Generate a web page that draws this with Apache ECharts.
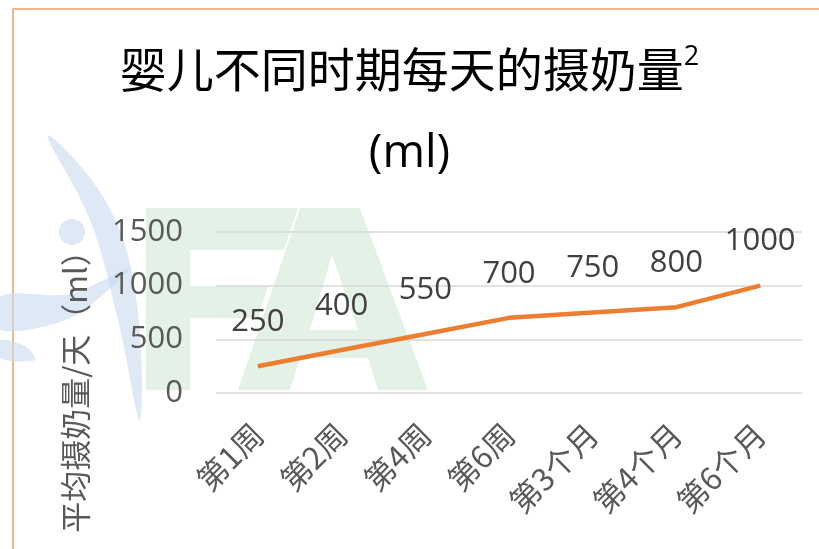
<!DOCTYPE html>
<html>
<head>
<meta charset="utf-8">
<script src="https://cdn.jsdelivr.net/npm/echarts@6/dist/echarts.min.js"></script>
<style>html,body{margin:0;padding:0;background:#fff;}#c{width:819px;height:549px;}</style>
</head>
<body>
<div id="c"></div>
<script>
const categories = ['第1周', '第2周', '第4周', '第6周', '第3个月', '第4个月', '第6个月'];
const intake = [250, 400, 550, 700, 750, 800, 1000];
const yTicks = { min: 0, max: 1500, interval: 500 };
const titleMain = '婴儿不同时期每天的摄奶量';
const titleSup = '2';
const titleUnit = '(ml)';
const yName = '平均摄奶量/天（ml）';

const chart = echarts.init(document.getElementById('c'), null, { renderer: 'canvas' });
const numFont = '"Open Sans", "Noto Sans CJK SC", sans-serif';
const cjkFont = '"Noto Sans CJK SC", sans-serif';
const blue = 'rgba(200,218,238,0.6)';
const green = 'rgba(205,230,210,0.55)';

chart.setOption({
  backgroundColor: '#ffffff',
  animation: false,
  graphic: [
    { type: 'rect', z: -10, shape: { x: 13, y: 9, width: 900, height: 700 },
      style: { fill: 'none', stroke: '#F0A06A', lineWidth: 1.5 } },
    // watermark: blue swoosh
    { type: 'polygon', z: -9, shape: { smooth: 0.4, points: [[48,136],[105,200],[135,290],[140,420],[118,320],[90,220]] },
      style: { fill: blue } },
    { type: 'circle', z: -9, shape: { cx: 72, cy: 232, r: 13 }, style: { fill: blue } },
    { type: 'polygon', z: -9, shape: { smooth: 0.3, points: [[0,296],[70,294],[130,268],[70,318],[0,330]] },
      style: { fill: blue } },
    { type: 'polygon', z: -9, shape: { smooth: 0.3, points: [[0,340],[25,346],[35,360],[0,358]] },
      style: { fill: blue } },
    // watermark: green FA
    { type: 'polygon', z: -9, shape: { points: [[146,208],[298,208],[284,250],[190,250],[190,286],[268,286],[258,318],[190,318],[190,390],[146,390]] },
      style: { fill: green } },
    { type: 'polygon', z: -9, shape: { points: [[300,208],[360,208],[428,390],[378,390],[368,358],[300,358],[290,390],[238,390]] },
      style: { fill: green } },
    { type: 'polygon', z: -8, shape: { points: [[332,255],[358,330],[310,330]] },
      style: { fill: '#ffffff' } },
    // title
    { type: 'text', left: 'center', top: 44,
      style: { text: '{m|' + titleMain + '}{s|' + titleSup + '}',
        rich: { m: { fontSize: 47, fontFamily: cjkFont, fill: '#000' },
                s: { fontSize: 27, fontFamily: numFont, fill: '#000', verticalAlign: 'top', padding: [0,0,24,0] } } } },
    { type: 'text', left: 'center', top: 131,
      style: { text: titleUnit, fontSize: 46, fontFamily: numFont, fill: '#000' } },
    // y axis name
    { type: 'text', x: 75, y: 384, rotation: Math.PI / 2,
      style: { text: yName, fontSize: 31, fontFamily: cjkFont, fill: '#595959', align: 'center', verticalAlign: 'middle' } }
  ],
  grid: { left: 216, right: 17, top: 232, bottom: 156 },
  xAxis: {
    type: 'category', data: categories, boundaryGap: true,
    axisLine: { show: false }, axisTick: { show: false },
    axisLabel: { rotate: 45, margin: 36, fontSize: 31, color: '#595959', fontFamily: cjkFont }
  },
  yAxis: {
    type: 'value', min: yTicks.min, max: yTicks.max, interval: yTicks.interval,
    axisLine: { show: false }, axisTick: { show: false },
    splitLine: { lineStyle: { color: '#d9d9d9', width: 1.5 } },
    axisLabel: { margin: 33, fontSize: 31, color: '#595959', fontFamily: numFont, formatter: v => String(v) }
  },
  series: [{
    type: 'line', data: intake, symbol: 'circle', symbolSize: 1, showSymbol: true,
    itemStyle: { color: '#ED7D31' },
    lineStyle: { color: '#ED7D31', width: 4.5 },
    label: { show: true, position: 'top', distance: 28, fontSize: 31, color: '#404040', fontFamily: numFont }
  }]
});
</script>
</body>
</html>
